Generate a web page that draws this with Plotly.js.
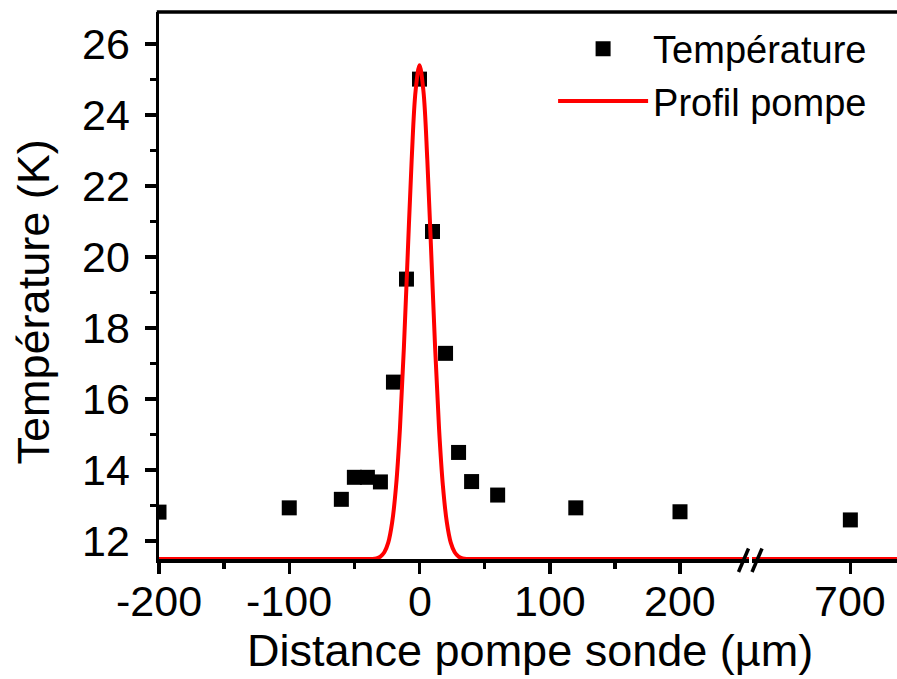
<!DOCTYPE html>
<html>
<head>
<meta charset="utf-8">
<script src="https://cdn.plot.ly/plotly-3.0.1.min.js"></script>
<style>html,body{margin:0;padding:0;background:#fff;}#chart{width:897px;height:679px;}</style>
</head>
<body>
<div id="chart"></div>
<script>
// Measured points: distance pompe-sonde (µm) and temperature (K)
const distance = [-200, -100, -60, -50, -40, -30, -20, -10, 0, 10, 20, 30, 40, 60, 120, 200, 700];
const temperature = [12.82, 12.94, 13.18, 13.80, 13.80, 13.67, 16.48, 19.38, 25.01, 20.72, 17.29, 14.50, 13.68, 13.30, 12.94, 12.83, 12.60];

// Pump profile
const profileX = [-250, -200, -100, -40, -36, -33, -30, -27, -24, -21, -18, -15, -12, -9, -6, -3, 0, 3, 6, 9, 12, 15, 18, 21, 24, 27, 30, 33, 36, 40, 100, 200, 300, 600, 700, 800];
const profileY = [11.5, 11.5, 11.5, 11.5, 11.5, 11.52, 11.57, 11.69, 11.96, 12.53, 13.55, 15.18, 17.44, 20.12, 22.74, 24.68, 25.40, 24.68, 22.74, 20.12, 17.44, 15.18, 13.55, 12.53, 11.96, 11.69, 11.57, 11.52, 11.5, 11.5, 11.5, 11.5, 11.5, 11.5, 11.5, 11.5];

const xTicksLeft = [-200, -100, 0, 100, 200];
const xMinorLeft = [-150, -50, 50, 150];
const xTicksRight = [700];
const yTicks = [12, 14, 16, 18, 20, 22, 24, 26];
const yMinor = [13, 15, 17, 19, 21, 23, 25];

const FONT = 'Liberation Sans, Arial, sans-serif';
const RED = '#ff0000';

const markerStyle = {symbol: 'square', size: 15, color: '#000000'};
const lineStyle = {color: RED, width: 4, shape: 'spline', smoothing: 1};

const traces = [
  {x: distance, y: temperature, xaxis: 'x', yaxis: 'y', type: 'scatter', mode: 'markers',
   name: 'Température', marker: markerStyle, cliponaxis: true},
  {x: profileX, y: profileY, xaxis: 'x', yaxis: 'y', type: 'scatter', mode: 'lines',
   name: 'Profil pompe', line: lineStyle},
  {x: profileX, y: profileY, xaxis: 'x2', yaxis: 'y', type: 'scatter', mode: 'lines',
   name: 'Profil pompe', line: lineStyle, showlegend: false},
  {x: distance, y: temperature, xaxis: 'x2', yaxis: 'y', type: 'scatter', mode: 'markers',
   name: 'Température', marker: markerStyle, showlegend: false, cliponaxis: true}
];

const tickFont = {family: FONT, size: 43, color: '#000'};
const axisCommon = {
  showgrid: false, zeroline: false, showline: true, linecolor: '#000', linewidth: 3.5,
  ticks: 'outside', ticklen: 11, tickwidth: 3.5, tickcolor: '#000', tickfont: tickFont
};

// x tick labels placed as text under each tick of the two axis segments
const tickLabelAnnots = []
  .concat(xTicksLeft.map(v => ({xref: 'x', v: v})))
  .concat(xTicksRight.map(v => ({xref: 'x2', v: v})))
  .map(o => ({
    text: String(o.v), xref: o.xref, yref: 'paper', x: o.v, y: 0,
    xanchor: 'center', yanchor: 'middle', yshift: -42, showarrow: false,
    font: tickFont
  }));

const layout = {
  width: 897, height: 679,
  margin: {l: 159, r: 0, t: 12, b: 120},
  paper_bgcolor: '#fff', plot_bgcolor: '#fff',
  showlegend: true,
  font: {family: FONT, color: '#000'},
  xaxis: Object.assign({}, axisCommon, {
    domain: [0, 0.7995], range: [-200, 253], anchor: 'y',
    tickmode: 'array', tickvals: xTicksLeft, showticklabels: false,
    minor: {tickmode: 'array', tickvals: xMinorLeft, ticks: 'outside', ticklen: 6, tickwidth: 3.5, tickcolor: '#000'}
  }),
  xaxis2: Object.assign({}, axisCommon, {
    domain: [0.8035, 1], range: [624.5, 735.8], anchor: 'y',
    tickmode: 'array', tickvals: xTicksRight, showticklabels: false
  }),
  yaxis: Object.assign({}, axisCommon, {
    range: [11.5, 26.9], anchor: 'x',
    tickmode: 'array', tickvals: yTicks, ticktext: yTicks.map(String),
    ticklabelstandoff: 6,
    minor: {tickmode: 'array', tickvals: yMinor, ticks: 'outside', ticklen: 6, tickwidth: 3.5, tickcolor: '#000'}
  }),
  legend: {
    x: 0.534, y: 0.99, xanchor: 'left', yanchor: 'top',
    bgcolor: 'rgba(0,0,0,0)', borderwidth: 0,
    font: {family: FONT, size: 38, color: '#000'},
    itemwidth: 90, tracegroupgap: 0
  },
  shapes: [
    {type: 'line', xref: 'paper', yref: 'paper', x0: -0.003, x1: 1, y0: 1, y1: 1,
     line: {color: '#000', width: 3.5}},
    {type: 'line', xref: 'paper', yref: 'paper', xsizemode: 'pixel', ysizemode: 'pixel',
     xanchor: 0.8015, yanchor: 0, x0: -12, x1: -2, y0: -13, y1: 10.5,
     line: {color: '#000', width: 3.5}},
    {type: 'line', xref: 'paper', yref: 'paper', xsizemode: 'pixel', ysizemode: 'pixel',
     xanchor: 0.8015, yanchor: 0, x0: 1.5, x1: 11.5, y0: -13, y1: 10.5,
     line: {color: '#000', width: 3.5}}
  ],
  annotations: tickLabelAnnots.concat([
    {text: 'Distance pompe sonde (µm)', xref: 'paper', yref: 'paper', x: 0.5027, y: -0.168,
     xanchor: 'center', yanchor: 'middle', showarrow: false,
     font: {family: FONT, size: 45, color: '#000'}},
    {text: 'Température (K)', xref: 'paper', yref: 'paper', x: -0.17, y: 0.47,
     xanchor: 'center', yanchor: 'middle', showarrow: false, textangle: -90,
     font: {family: FONT, size: 45, color: '#000'}}
  ])
};

Plotly.newPlot('chart', traces, layout, {staticPlot: true, displayModeBar: false});
</script>
</body>
</html>
